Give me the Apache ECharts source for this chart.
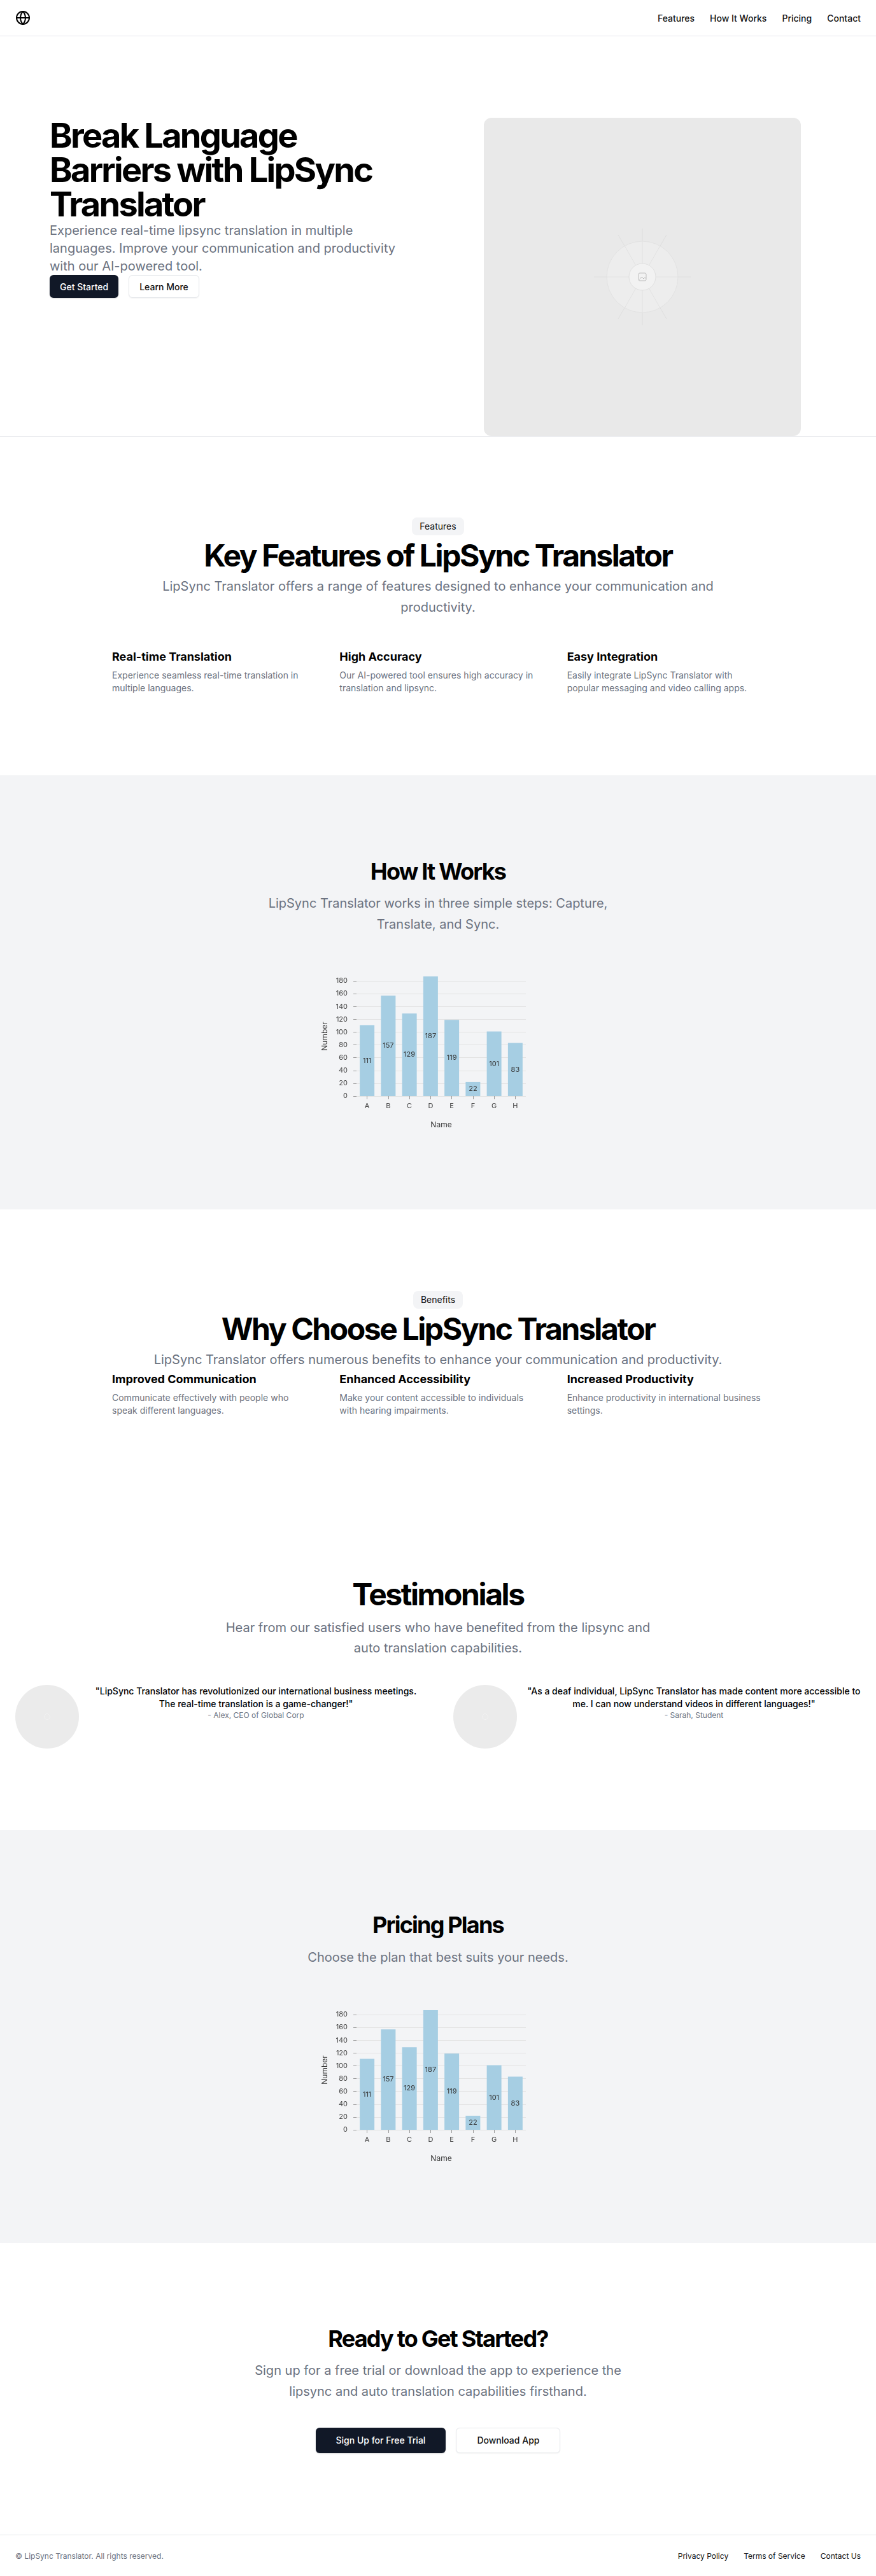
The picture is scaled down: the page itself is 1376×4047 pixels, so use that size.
<!DOCTYPE html>
<html>
<head>
<meta charset="utf-8">
<title>LipSync Translator</title>
<script src="https://cdn.jsdelivr.net/npm/echarts@6/dist/echarts.min.js"></script>
<style>
* { box-sizing: border-box; margin: 0; padding: 0; }
body { width: 1376px; font-family: Inter, "Noto Sans", sans-serif; color: #000; background: #fff; }
header { height: 57px; border-bottom: 1px solid #e5e7eb; display: flex; align-items: center; justify-content: space-between; padding: 0 24px; }
header nav { display: flex; gap: 24px; font-size: 14px; font-weight: 500; color: #111; }
section { position: relative; text-align: center; }
.gray { background: #f3f4f6; }
.hero { height: 629px; border-bottom: 1px solid #e5e7eb; text-align: left; }
.hero-text { position: absolute; left: 78px; top: 129px; width: 580px; }
.hero h1 { font-size: 54px; line-height: 54px; font-weight: 700; letter-spacing: -0.05em; }
.hero p { font-size: 20px; line-height: 28px; color: #6b7280; max-width: 560px; }
.btns { display: flex; gap: 16px; }
.btn { display: inline-flex; align-items: center; justify-content: center; height: 36px; padding: 0 16px; border-radius: 6px; font-size: 14px; font-weight: 500; }
.btn.dark { background: #111827; color: #fff; box-shadow: 0 1px 2px rgba(0,0,0,0.15); }
.btn.light { background: #fff; color: #111; border: 1px solid #e5e7eb; box-shadow: 0 1px 2px rgba(0,0,0,0.05); }
.btn.big { height: 40px; padding: 0 32px; }
.hero-img { position: absolute; left: 760px; top: 128px; width: 498px; height: 500px; border-radius: 12px; background: #e9e9e9; }
.hero-img svg { position: absolute; left: 0; top: 0; }
.badge { display: inline-block; height: 28px; padding: 4px 12px; font-size: 14px; line-height: 20px; border-radius: 8px; background: #f3f4f6; color: #111; }
h2.big { font-size: 48px; line-height: 48px; font-weight: 700; letter-spacing: -0.05em; }
h2.mid { font-size: 36px; line-height: 40px; font-weight: 700; letter-spacing: -0.05em; }
.lead { font-size: 20px; line-height: 32.5px; color: #6b7280; margin-left: auto; margin-right: auto; }
.grid3 { width: 1024px; margin: 0 auto; display: grid; grid-template-columns: repeat(3, 1fr); column-gap: 48px; text-align: left; }
.grid3 h3 { font-size: 18px; line-height: 28px; font-weight: 700; }
.grid3 p { margin-top: 5px; font-size: 14px; line-height: 20px; color: #6b7280; }
.chart { width: 440px; height: 310px; margin: 0 auto; }
.tgrid { display: grid; grid-template-columns: 1fr 1fr; column-gap: 48px; padding: 0 24px; margin-top: 41px; }
.titem { display: flex; gap: 16px; align-items: flex-start; }
.avatar { width: 100px; height: 100px; border-radius: 50%; background: #ebebeb; flex: none; position: relative; }
.avatar:after { content: ""; position: absolute; left: 45px; top: 45px; width: 8px; height: 8px; border: 1px solid #f2f2f2; border-radius: 50%; }
.tbody { flex: 1; text-align: center; }
.tbody .q { font-size: 14px; line-height: 20px; font-weight: 500; color: #000; }
.tbody .who { font-size: 12px; line-height: 16px; color: #6b7280; }
footer { height: 65px; border-top: 1px solid #e5e7eb; display: flex; align-items: center; justify-content: space-between; padding: 0 24px; font-size: 12px; }
footer .copy { color: #6b7280; }
footer nav { display: flex; gap: 24px; color: #111; }
</style>
</head>
<body>

<header>
  <svg width="24" height="24" viewBox="0 0 24 24" fill="none" stroke="#000" stroke-width="2" stroke-linecap="round" stroke-linejoin="round">
    <circle cx="12" cy="12" r="10"></circle>
    <line x1="2" y1="12" x2="22" y2="12"></line>
    <path d="M12 2a15.3 15.3 0 0 1 4 10 15.3 15.3 0 0 1-4 10 15.3 15.3 0 0 1-4-10 15.3 15.3 0 0 1 4-10z"></path>
  </svg>
  <nav><span>Features</span><span>How It Works</span><span>Pricing</span><span>Contact</span></nav>
</header>

<section class="hero">
  <div class="hero-text">
    <h1>Break Language Barriers with LipSync Translator</h1>
    <p>Experience real-time lipsync translation in multiple languages. Improve your communication and productivity with our AI-powered tool.</p>
    <div class="btns">
      <span class="btn dark">Get Started</span>
      <span class="btn light">Learn More</span>
    </div>
  </div>
  <div class="hero-img">
    <svg width="498" height="500" viewBox="0 0 498 500">
      <g stroke="#dedede" stroke-width="1" fill="none">
        <line x1="249" y1="174" x2="249" y2="326"></line>
        <line x1="173" y1="250" x2="325" y2="250"></line>
        <line x1="211" y1="184" x2="287" y2="316"></line>
        <line x1="287" y1="184" x2="211" y2="316"></line>
      </g>
      <circle cx="249" cy="250" r="56" fill="#ededed" stroke="#e2e2e2"></circle>
      <g stroke="#e2e2e2" stroke-width="1">
        <line x1="249" y1="194" x2="249" y2="306"></line>
        <line x1="193" y1="250" x2="305" y2="250"></line>
        <line x1="221" y1="201" x2="277" y2="299"></line>
        <line x1="277" y1="201" x2="221" y2="299"></line>
      </g>
      <circle cx="249" cy="250" r="21" fill="#f2f2f2" stroke="#e0e0e0"></circle>
      <rect x="243" y="244" width="12" height="12" rx="2" fill="none" stroke="#bdbdbd" stroke-width="1"></rect>
      <path d="M244 254 l4 -4 l3 3 l2 -2 l2 2" fill="none" stroke="#bdbdbd" stroke-width="1"></path>
    </svg>
  </div>
</section>

<section style="height:532px;padding-top:127px;">
  <span class="badge">Features</span>
  <h2 class="big" style="margin-top:8px;">Key Features of LipSync Translator</h2>
  <p class="lead" style="margin-top:8px;max-width:920px;">LipSync Translator offers a range of features designed to enhance your communication and productivity.</p>
  <div class="grid3" style="margin-top:48px;">
    <div><h3>Real-time Translation</h3><p>Experience seamless real-time translation in multiple languages.</p></div>
    <div><h3>High Accuracy</h3><p>Our AI-powered tool ensures high accuracy in translation and lipsync.</p></div>
    <div><h3>Easy Integration</h3><p>Easily integrate LipSync Translator with popular messaging and video calling apps.</p></div>
  </div>
</section>

<section class="gray" style="height:682px;padding-top:130.5px;">
  <h2 class="mid">How It Works</h2>
  <p class="lead" style="margin-top:14.5px;max-width:600px;">LipSync Translator works in three simple steps: Capture, Translate, and Sync.</p>
  <div class="chart" id="howChart"></div>
</section>

<section style="height:453px;padding-top:128px;">
  <span class="badge">Benefits</span>
  <h2 class="big" style="margin-top:8px;">Why Choose LipSync Translator</h2>
  <p class="lead" style="margin-top:8px;max-width:920px;">LipSync Translator offers numerous benefits to enhance your communication and productivity.</p>
  <div class="grid3">
    <div><h3>Improved Communication</h3><p>Communicate effectively with people who speak different languages.</p></div>
    <div><h3>Enhanced Accessibility</h3><p>Make your content accessible to individuals with hearing impairments.</p></div>
    <div><h3>Increased Productivity</h3><p>Enhance productivity in international business settings.</p></div>
  </div>
</section>

<section style="height:522px;padding-top:128px;">
  <h2 class="big">Testimonials</h2>
  <p class="lead" style="margin-top:11.5px;max-width:690px;">Hear from our satisfied users who have benefited from the lipsync and auto translation capabilities.</p>
  <div class="tgrid">
    <div class="titem">
      <div class="avatar"></div>
      <div class="tbody">
        <p class="q">"LipSync Translator has revolutionized our international business meetings. The real-time translation is a game-changer!"</p>
        <p class="who">- Alex, CEO of Global Corp</p>
      </div>
    </div>
    <div class="titem">
      <div class="avatar"></div>
      <div class="tbody">
        <p class="q">"As a deaf individual, LipSync Translator has made content more accessible to me. I can now understand videos in different languages!"</p>
        <p class="who">- Sarah, Student</p>
      </div>
    </div>
  </div>
</section>

<section class="gray" style="height:649px;padding-top:129.2px;">
  <h2 class="mid">Pricing Plans</h2>
  <p class="lead" style="margin-top:15px;max-width:600px;">Choose the plan that best suits your needs.</p>
  <div class="chart" id="priceChart"></div>
</section>

<section style="height:458px;padding-top:130.2px;">
  <h2 class="mid">Ready to Get Started?</h2>
  <p class="lead" style="margin-top:14px;max-width:600px;">Sign up for a free trial or download the app to experience the lipsync and auto translation capabilities firsthand.</p>
  <div class="btns" style="justify-content:center;margin-top:40.8px;">
    <span class="btn big dark">Sign Up for Free Trial</span>
    <span class="btn big light">Download App</span>
  </div>
</section>

<footer>
  <span class="copy">© LipSync Translator. All rights reserved.</span>
  <nav><span>Privacy Policy</span><span>Terms of Service</span><span>Contact Us</span></nav>
</footer>

<script>
// chart data
var names = ['A', 'B', 'C', 'D', 'E', 'F', 'G', 'H'];
var numbers = [111, 157, 129, 187, 119, 22, 101, 83];
var yTicks = [0, 20, 40, 60, 80, 100, 120, 140, 160, 180];
var yMax = 187;

function drawBars(domId) {
    var myChart = echarts.init(document.getElementById(domId));
    var option = {
        animation: false,
        textStyle: {
            fontFamily: 'Inter, sans-serif'
        },
        grid: {
            left: 92,
            right: 82,
            top: 66,
            height: 188
        },
        xAxis: {
            type: 'category',
            data: names,
            name: 'Name',
            nameLocation: 'middle',
            nameGap: 39,
            nameTextStyle: {fontSize: 12, color: '#333'},
            axisLine: {show: false},
            axisTick: {show: true, alignWithLabel: true, length: 5, lineStyle: {color: '#999'}},
            axisLabel: {fontSize: 11, color: '#444', margin: 10},
            splitLine: {show: false}
        },
        yAxis: {
            type: 'value',
            min: 0,
            max: yMax,
            interval: 20,
            name: 'Number',
            nameLocation: 'middle',
            nameGap: 35,
            nameRotate: 90,
            nameTextStyle: {fontSize: 12, color: '#333'},
            axisLine: {show: false},
            // ticks, labels and grid lines stop at 180, bars go up to the data max
            axisTick: {show: true, length: 5, lineStyle: {color: '#999'}, customValues: yTicks},
            axisLabel: {fontSize: 11, color: '#444', margin: 14, customValues: yTicks},
            splitLine: {show: true, lineStyle: {color: '#e2e2e2'}}
        },
        series: [{
            type: 'bar',
            data: numbers,
            barWidth: 23,
            itemStyle: {color: '#a6cee3'},
            label: {show: true, position: 'inside', fontSize: 11, color: '#333'}
        }]
    };
    myChart.setOption(option, true);
}

drawBars('howChart');
drawBars('priceChart');
</script>
</body>
</html>
